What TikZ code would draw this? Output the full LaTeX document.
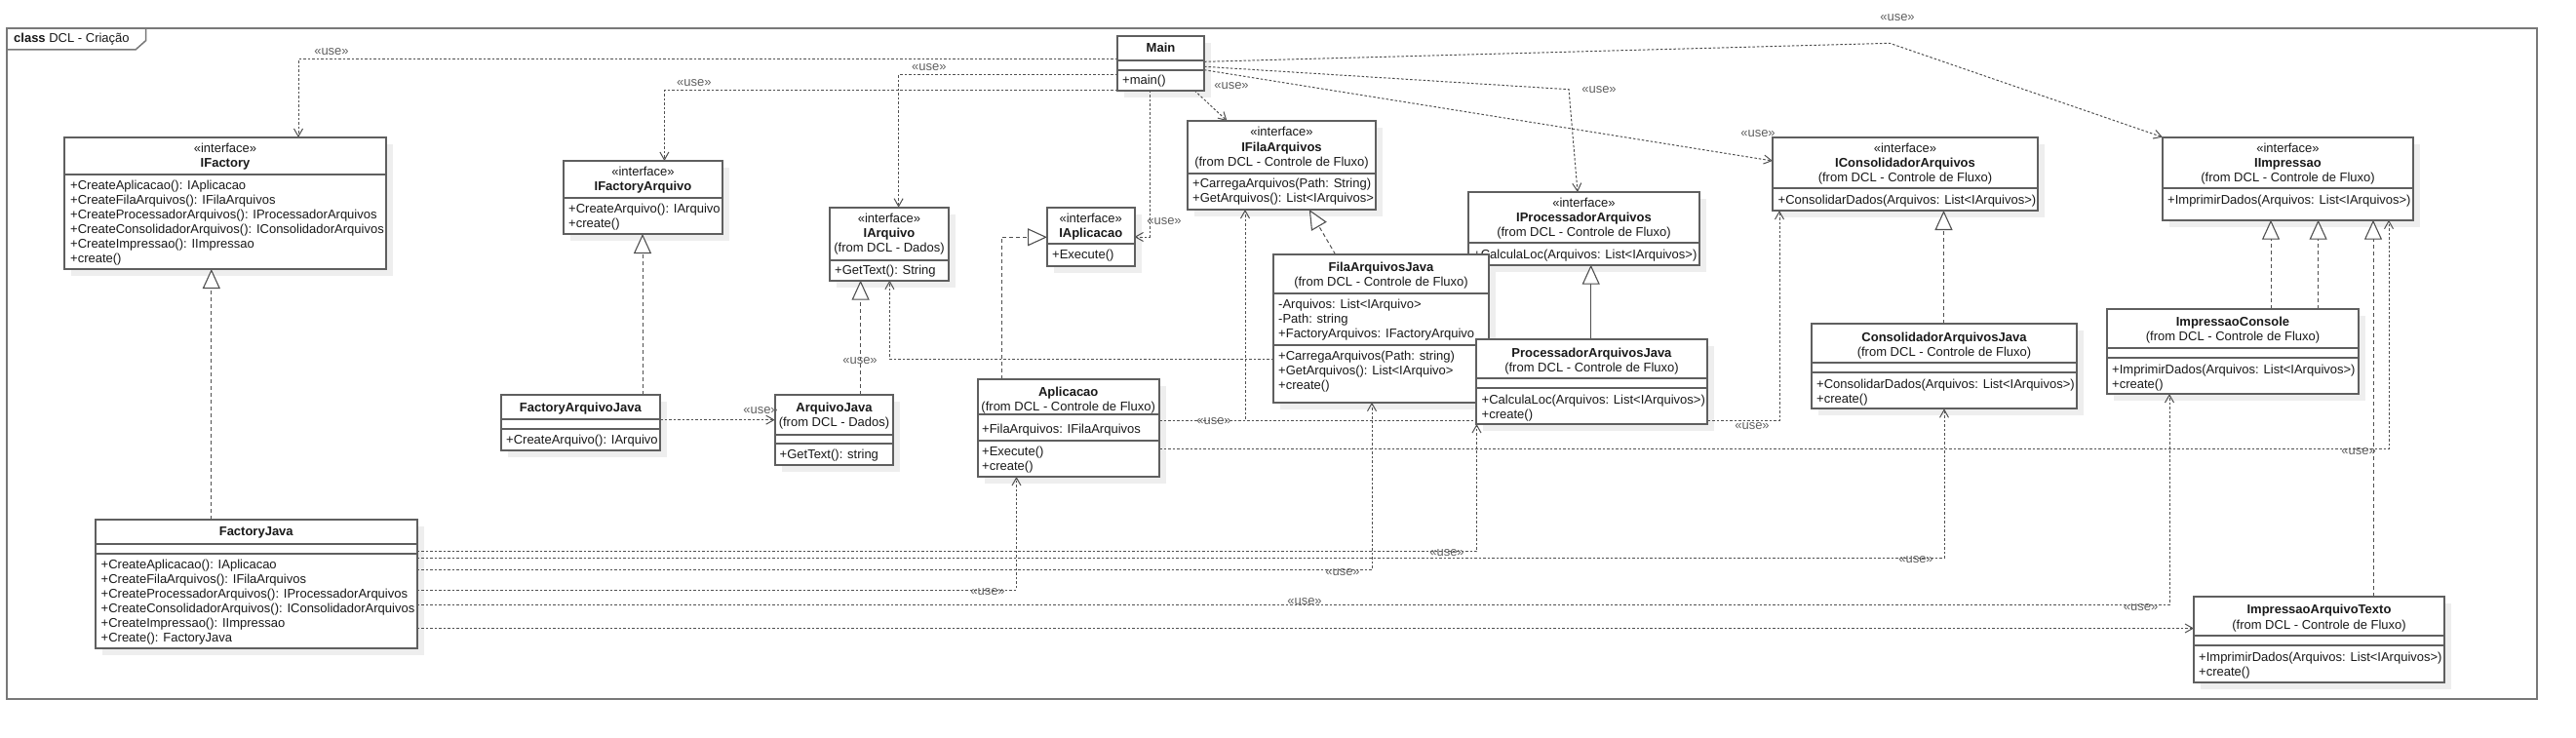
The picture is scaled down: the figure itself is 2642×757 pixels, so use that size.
\documentclass[tikz,border=0pt]{standalone}
\usepackage{fontspec}
\setmainfont{Liberation Sans}
\usetikzlibrary{arrows.meta}
\pgfdeclarelayer{shadowlayer}
\pgfdeclarelayer{connlayer}
\pgfsetlayers{shadowlayer,connlayer,main}
\definecolor{boxc}{RGB}{95,95,95}
\definecolor{linec}{RGB}{80,80,80}
\definecolor{shadc}{RGB}{238,238,238}
\definecolor{lblc}{RGB}{95,95,95}
\definecolor{txtc}{RGB}{25,25,25}
\definecolor{framec}{RGB}{120,120,120}

\newcounter{tn}
\newcommand{\ct}[2]{\stepcounter{tn}\node[ctxt] (t\arabic{tn}) at (#1) {#2};}
\newcommand{\lt}[2]{\stepcounter{tn}\node[ltxt] (t\arabic{tn}) at (#1) {#2};}
\newcommand{\ul}[1]{\stepcounter{tn}\node[ulbl] (t\arabic{tn}) at (#1) {«use»};}
\newcommand{\cls}[5]{%
  \begin{pgfonlayer}{shadowlayer}\fill[shadc] (#2+7,#3+7) rectangle (#4+7,#5+7);\end{pgfonlayer}
  \node[clsbox, minimum width=#4-#2, minimum height=#5-#3, anchor=north west] (#1) at (#2,#3) {};}
\newcommand{\dv}[2]{\path (0,#2) coordinate (dvtmp); \draw[divl] (#1.west |- dvtmp) -- (#1.east |- dvtmp);}

\begin{document}
\begin{tikzpicture}[x=1pt,y=-1pt,
  every node/.style={font=\fontsize{13pt}{15pt}\selectfont},
  clsbox/.style={draw=boxc, line width=2pt, fill=white, inner sep=0pt, outer sep=0pt, rectangle},
  divl/.style={draw=boxc, line width=2pt},
  ctxt/.style={anchor=base, inner sep=0pt, text=txtc},
  ltxt/.style={anchor=base west, inner sep=0pt, text=txtc},
  ulbl/.style={anchor=center, inner sep=0pt, text=lblc},
  use/.style={draw=linec, line width=1pt, dash pattern=on 2.5pt off 2pt,
     -{Straight Barb[length=8pt,width=9pt,line width=1pt]}},
  real/.style={draw=linec, line width=1pt, dash pattern=on 4pt off 3pt,
     -{Triangle[open,length=20pt,width=18pt,fill=white,line width=1.1pt]}},
  gen/.style={draw=linec, line width=1.5pt,
     -{Triangle[open,length=20pt,width=18pt,fill=white,line width=1.1pt]}}
]
\useasboundingbox (0,0) rectangle (2642,757);

% frame
\begin{pgfonlayer}{shadowlayer}
\draw[framec, line width=2pt] (7,29) rectangle (2602,717);
\draw[framec, line width=1.5pt] (7,51) -- (139,51) -- (149.5,41.7) -- (149.5,29);
\end{pgfonlayer}
\node[ltxt] (title) at (14,44) {\textbf{class} DCL - Criação};

% ---------- classes ----------
\cls{IFactory}{66}{141}{396}{276}
\dv{IFactory}{179}
\ct{231,156.5}{«interface»}
\ct{231,171.5}{\textbf{IFactory}}
\lt{72,194.5}{+CreateAplicacao(): IAplicacao}
\lt{72,209.5}{+CreateFilaArquivos(): IFilaArquivos}
\lt{72,224.5}{+CreateProcessadorArquivos(): IProcessadorArquivos}
\lt{72,239.5}{+CreateConsolidadorArquivos(): IConsolidadorArquivos}
\lt{72,254.5}{+CreateImpressao(): IImpressao}
\lt{72,269.5}{+create()}

\cls{IFactoryArquivo}{578}{165}{741}{240}
\dv{IFactoryArquivo}{202.7}
\ct{659.5,180}{«interface»}
\ct{659.5,195}{\textbf{IFactoryArquivo}}
\lt{583,218.5}{+CreateArquivo(): IArquivo}
\lt{583,233.5}{+create()}

\cls{Main}{1146}{36.7}{1235}{92.7}
\dv{Main}{62}
\dv{Main}{71.7}
\ct{1190.5,53.5}{\textbf{Main}}
\lt{1151,87}{+main()}

\cls{IFilaArquivos}{1218}{124}{1411}{215}
\dv{IFilaArquivos}{178}
\ct{1314.5,139.5}{«interface»}
\ct{1314.5,155}{\textbf{IFilaArquivos}}
\ct{1314.5,170}{(from DCL - Controle de Fluxo)}
\lt{1223,192.5}{+CarregaArquivos(Path: String)}
\lt{1223,207.5}{+GetArquivos(): List<IArquivos>}

\cls{IProcessadorArquivos}{1506}{197}{1743}{271.7}
\dv{IProcessadorArquivos}{249}
\ct{1624.5,212}{«interface»}
\ct{1624.5,227}{\textbf{IProcessadorArquivos}}
\ct{1624.5,242}{(from DCL - Controle de Fluxo)}
\lt{1511,265.5}{+CalculaLoc(Arquivos: List<IArquivos>)}

\cls{FilaArquivosJava}{1306}{261}{1527}{412.7}
\dv{FilaArquivosJava}{300.7}
\dv{FilaArquivosJava}{354}
\ct{1416.5,278}{\textbf{FilaArquivosJava}}
\ct{1416.5,293}{(from DCL - Controle de Fluxo)}
\lt{1311,316}{-Arquivos: List<IArquivo>}
\lt{1311,331}{-Path: string}
\lt{1311,346}{+FactoryArquivos: IFactoryArquivo}
\lt{1311,369.5}{+CarregaArquivos(Path: string)}
\lt{1311,384.5}{+GetArquivos(): List<IArquivo>}
\lt{1311,399.5}{+create()}

\cls{ProcessadorArquivosJava}{1514}{348.3}{1751}{435}
\dv{ProcessadorArquivosJava}{388.3}
\dv{ProcessadorArquivosJava}{398.3}
\ct{1632.5,366}{\textbf{ProcessadorArquivosJava}}
\ct{1632.5,381}{(from DCL - Controle de Fluxo)}
\lt{1519.5,414.5}{+CalculaLoc(Arquivos: List<IArquivos>)}
\lt{1519.5,429.5}{+create()}

\cls{IConsolidadorArquivos}{1818}{140.7}{2090}{216}
\dv{IConsolidadorArquivos}{193.3}
\ct{1954,157}{«interface»}
\ct{1954,171.5}{\textbf{IConsolidadorArquivos}}
\ct{1954,186.5}{(from DCL - Controle de Fluxo)}
\lt{1823.5,209.5}{+ConsolidarDados(Arquivos: List<IArquivos>)}

\cls{IImpressao}{2218}{140.7}{2475}{225.7}
\dv{IImpressao}{193.3}
\ct{2346.5,157}{«interface»}
\ct{2346.5,171.5}{\textbf{IImpressao}}
\ct{2346.5,186.5}{(from DCL - Controle de Fluxo)}
\lt{2223,209.5}{+ImprimirDados(Arquivos: List<IArquivos>)}

\cls{ConsolidadorArquivosJava}{1858}{332.3}{2130}{419.3}
\dv{ConsolidadorArquivosJava}{372.3}
\dv{ConsolidadorArquivosJava}{382.3}
\ct{1994,350}{\textbf{ConsolidadorArquivosJava}}
\ct{1994,365}{(from DCL - Controle de Fluxo)}
\lt{1863,398.5}{+ConsolidarDados(Arquivos: List<IArquivos>)}
\lt{1863,413.5}{+create()}

\cls{ImpressaoConsole}{2161}{316.7}{2419}{404}
\dv{ImpressaoConsole}{356.7}
\dv{ImpressaoConsole}{366.7}
\ct{2290,334}{\textbf{ImpressaoConsole}}
\ct{2290,349.5}{(from DCL - Controle de Fluxo)}
\lt{2166,383}{+ImprimirDados(Arquivos: List<IArquivos>)}
\lt{2166,398}{+create()}

\cls{ImpressaoArquivoTexto}{2250}{612.3}{2507}{700}
\dv{ImpressaoArquivoTexto}{652.3}
\dv{ImpressaoArquivoTexto}{662.3}
\ct{2378.5,629.5}{\textbf{ImpressaoArquivoTexto}}
\ct{2378.5,645}{(from DCL - Controle de Fluxo)}
\lt{2255,678.5}{+ImprimirDados(Arquivos: List<IArquivos>)}
\lt{2255,693}{+create()}

\cls{IArquivo}{851}{212.7}{973}{287.7}
\dv{IArquivo}{266.7}
\ct{912,228}{«interface»}
\ct{912,243}{\textbf{IArquivo}}
\ct{912,258}{(from DCL - Dados)}
\lt{856,281}{+GetText(): String}

\cls{IAplicacao}{1074}{212.7}{1163.5}{272.7}
\dv{IAplicacao}{250}
\ct{1118.75,228}{«interface»}
\ct{1118.75,243}{\textbf{IAplicacao}}
\lt{1079,265}{+Execute()}

\cls{FactoryArquivoJava}{513.8}{405}{677}{461.7}
\dv{FactoryArquivoJava}{430}
\dv{FactoryArquivoJava}{440}
\ct{595.4,422}{\textbf{FactoryArquivoJava}}
\lt{519,455}{+CreateArquivo(): IArquivo}

\cls{ArquivoJava}{794.7}{405}{916.4}{476.7}
\dv{ArquivoJava}{445.7}
\dv{ArquivoJava}{455}
\ct{855.5,422}{\textbf{ArquivoJava}}
\ct{855.5,437}{(from DCL - Dados)}
\lt{799.5,470.5}{+GetText(): string}

\cls{Aplicacao}{1002.5}{389}{1189}{489}
\dv{Aplicacao}{425}
\dv{Aplicacao}{451.7}
\ct{1095.7,406}{\textbf{Aplicacao}}
\ct{1095.7,421}{(from DCL - Controle de Fluxo)}
\lt{1007,444.5}{+FilaArquivos: IFilaArquivos}
\lt{1007,467}{+Execute()}
\lt{1007,482}{+create()}

\cls{FactoryJava}{98}{532.7}{427.6}{665}
\dv{FactoryJava}{557.7}
\dv{FactoryJava}{567.7}
\ct{262.8,549.5}{\textbf{FactoryJava}}
\lt{103.5,583.5}{+CreateAplicacao(): IAplicacao}
\lt{103.5,598.5}{+CreateFilaArquivos(): IFilaArquivos}
\lt{103.5,613.5}{+CreateProcessadorArquivos(): IProcessadorArquivos}
\lt{103.5,628.5}{+CreateConsolidadorArquivos(): IConsolidadorArquivos}
\lt{103.5,643.5}{+CreateImpressao(): IImpressao}
\lt{103.5,658.5}{+Create(): FactoryJava}

% ---------- connectors ----------
\begin{pgfonlayer}{connlayer}
% dependencies from Main
\coordinate (b1) at (306,61);
\draw[use] (Main.west |- b1) -- (b1) -- (b1 |- IFactory.north);
\coordinate (b2) at (681.4,92.7);
\draw[use] (Main.south west) -- (b2) -- (b2 |- IFactoryArquivo.north);
\coordinate (b3) at (921.6,76.7);
\draw[use] (Main.west |- b3) -- (b3) -- (b3 |- IArquivo.north);
\coordinate (b4) at (1179,243);
\draw[use] (b4 |- Main.south) -- (b4) -- (IAplicacao.east |- b4);
\coordinate (b5a) at (1225,0);
\coordinate (b5b) at (1258.5,0);
\draw[use] (b5a |- Main.south) -- (b5b |- IFilaArquivos.north);
\coordinate (b6a) at (0,68.3);
\coordinate (b6) at (1609,91.7);
\coordinate (b6c) at (1618,0);
\draw[use] (Main.east |- b6a) -- (b6) -- (b6c |- IProcessadorArquivos.north);
\coordinate (b7a) at (0,71.7);
\coordinate (b7b) at (0,165);
\draw[use] (Main.east |- b7a) -- (IConsolidadorArquivos.west |- b7b);
\coordinate (b8a) at (0,63.3);
\coordinate (b8) at (1938,44.3);
\draw[use] (Main.east |- b8a) -- (b8) -- (IImpressao.north west);
% other dependencies
\coordinate (b9) at (0,430.7);
\draw[use] (FactoryArquivoJava.east |- b9) -- (ArquivoJava.west |- b9);
\coordinate (b10) at (912.4,368.3);
\draw[use] (FilaArquivosJava.west |- b10) -- (b10) -- (b10 |- IArquivo.south);
\coordinate (b11) at (1277,431.5);
\draw[use] (Aplicacao.east |- b11) -- (b11) -- (b11 |- IFilaArquivos.south);
\coordinate (b12) at (1825,431);
\draw[use] (Aplicacao.east |- b12) -- (b12) -- (b12 |- IConsolidadorArquivos.south);
\coordinate (b13) at (2450,460.7);
\draw[use] (Aplicacao.east |- b13) -- (b13) -- (b13 |- IImpressao.south);
\coordinate (b14) at (1514.5,565.7);
\draw[use] (FactoryJava.east |- b14) -- (b14) -- (b14 |- ProcessadorArquivosJava.south);
\coordinate (b15) at (1994,572.3);
\draw[use] (FactoryJava.east |- b15) -- (b15) -- (b15 |- ConsolidadorArquivosJava.south);
\coordinate (b16) at (1407,584.5);
\draw[use] (FactoryJava.east |- b16) -- (b16) -- (b16 |- FilaArquivosJava.south);
\coordinate (b17) at (1042.5,605);
\draw[use] (FactoryJava.east |- b17) -- (b17) -- (b17 |- Aplicacao.south);
\coordinate (b18) at (2225,620.5);
\draw[use] (FactoryJava.east |- b18) -- (b18) -- (b18 |- ImpressaoConsole.south);
\coordinate (b19) at (0,644.5);
\draw[use] (FactoryJava.east |- b19) -- (ImpressaoArquivoTexto.west |- b19);
% realizations / generalization
\coordinate (r1) at (216.8,0);
\draw[real] (r1 |- FactoryJava.north) -- (r1 |- IFactory.south);
\coordinate (r2) at (659,0);
\draw[real] (r2 |- FactoryArquivoJava.north) -- (r2 |- IFactoryArquivo.south);
\coordinate (r3) at (882.6,0);
\draw[real] (r3 |- ArquivoJava.north) -- (r3 |- IArquivo.south);
\coordinate (r4) at (1027,243.3);
\draw[real] (r4 |- Aplicacao.north) -- (r4) -- (IAplicacao.west |- r4);
\coordinate (r5a) at (1369.6,0);
\coordinate (r5b) at (1342.8,0);
\draw[real] (r5a |- FilaArquivosJava.north) -- (r5b |- IFilaArquivos.south);
\coordinate (r6) at (1631.7,0);
\draw[gen] (r6 |- ProcessadorArquivosJava.north) -- (r6 |- IProcessadorArquivos.south);
\coordinate (r7) at (1993.5,0);
\draw[real] (r7 |- ConsolidadorArquivosJava.north) -- (r7 |- IConsolidadorArquivos.south);
\coordinate (r8a) at (2329,0);
\draw[real] (r8a |- ImpressaoConsole.north) -- (r8a |- IImpressao.south);
\coordinate (r8b) at (2377.6,0);
\draw[real] (r8b |- ImpressaoConsole.north) -- (r8b |- IImpressao.south);
\coordinate (r9) at (2434,0);
\draw[real] (r9 |- ImpressaoArquivoTexto.north) -- (r9 |- IImpressao.south);
\end{pgfonlayer}

% ---------- labels ----------
\ul{340,53}
\ul{711.8,85}
\ul{952.8,69.3}
\ul{1194,226.7}
\ul{1263,88.3}
\ul{1640,91.7}
\ul{1803,136.7}
\ul{1946,18}
\ul{780,421}
\ul{882,370}
\ul{1245,432.5}
\ul{1797,437.3}
\ul{2419,463.3}
\ul{1484,567}
\ul{1965,574}
\ul{1377,586.7}
\ul{1013,606.7}
\ul{2195.5,622.7}
\ul{1338,616.7}
\end{tikzpicture}
\end{document}
